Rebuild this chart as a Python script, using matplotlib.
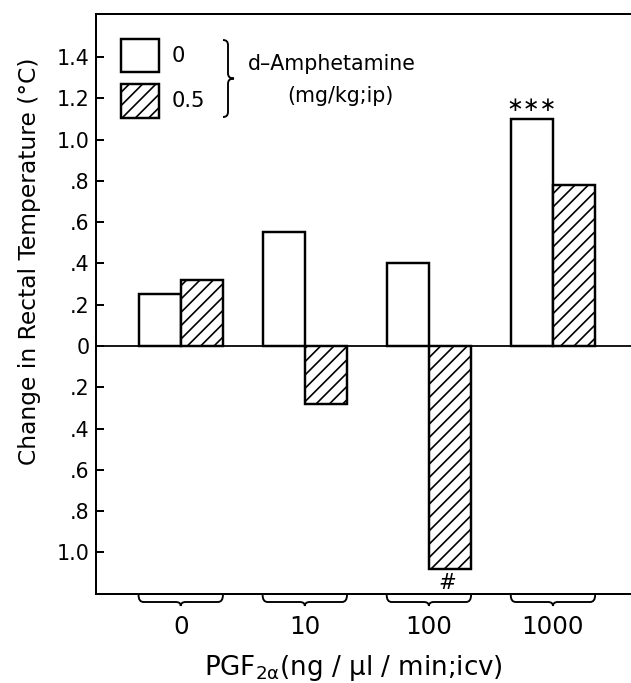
import matplotlib
matplotlib.use("Agg")
import matplotlib.pyplot as plt
from matplotlib.patches import Rectangle, PathPatch
from matplotlib.path import Path
from matplotlib.transforms import IdentityTransform
import numpy as np

# data
doses = ["0", "10", "100", "1000"]          # PGF2a, ng/ul/min icv
amph_0 = [0.25, 0.55, 0.40, 1.10]           # d-amphetamine 0 mg/kg
amph_05 = [0.32, -0.28, -1.08, 0.78]        # d-amphetamine 0.5 mg/kg
y_ticks = [-1.0, -0.8, -0.6, -0.4, -0.2, 0.0, 0.2, 0.4, 0.6, 0.8, 1.0, 1.2, 1.4]

W, H, DPI = 631, 683, 80
plt.rcParams['font.family'] = ['DejaVu Sans']
plt.rcParams['mathtext.default'] = 'regular'
plt.rcParams['hatch.linewidth'] = 1.5

fig = plt.figure(figsize=(W / DPI, H / DPI), dpi=DPI)
# axes frame in image pixels: left 96, top 14, bottom 594, running off the right edge
ax = fig.add_axes([96 / W, (H - 594) / H, 1.0 - 96 / W + 0.01, (594 - 14) / H])

x = np.arange(len(doses))
bw = 0.34
ax.bar(x - bw / 2, amph_0, bw, color="white", edgecolor="black", linewidth=2.2)
ax.bar(x + bw / 2, amph_05, bw, color="white", edgecolor="black", linewidth=2.2, hatch="//")
ax.axhline(0, color="black", lw=1.6)

ax.set_xlim(-0.683, 3.68)
ax.set_ylim(-1.201, 1.608)

# y ticks shown as magnitudes without leading zero
def fmt(v):
    v = abs(round(v, 1))
    if v == 0:
        return "0"
    s = f"{v:.1f}"
    return s[1:] if s.startswith("0") else s

ax.set_yticks(y_ticks)
ax.set_yticklabels([fmt(v) for v in y_ticks])
ax.tick_params(axis="y", direction="in", length=7, width=1.8, pad=6, labelsize=18.5)
ax.set_xticks(x)
ax.set_xticklabels(doses)
ax.tick_params(axis="x", length=0, pad=19, labelsize=22)

for s in ["left", "top", "bottom"]:
    ax.spines[s].set_linewidth(1.8)
ax.spines["right"].set_visible(False)

ax.set_ylabel("Change in Rectal Temperature (°C)", fontsize=21)
ax.yaxis.set_label_coords(-0.102, 0.574)
ax.set_xlabel(r"PGF$_{2\alpha}$(ng / $\mu$l / min;icv)", fontsize=23.5)
ax.xaxis.set_label_coords(0.475, -0.102)

# significance marks
ax.annotate("∗∗∗", (x[3] - bw / 2, amph_0[3]), xytext=(0, 13), textcoords="offset pixels",
            ha="center", va="center", fontsize=18)
ax.annotate("#", (x[2] + bw / 2, amph_05[2]), xytext=(-3, -14), textcoords="offset pixels",
            ha="center", va="center", fontsize=19, style="italic")


def img_path(verts, codes):
    # verts in image pixels (y down) -> display pixels
    v = [(px, H - py) for px, py in verts]
    return PathPatch(Path(v, codes), transform=IdentityTransform(), fill=False,
                     edgecolor="black", lw=1.7)


# group braces under the x axis
fig.canvas.draw()
to_px = ax.transData.transform
C, Q, L = Path.MOVETO, Path.CURVE3, Path.LINETO
for xi in x:
    x0 = to_px((xi - bw, 0))[0]
    x1 = to_px((xi + bw, 0))[0]
    xc = (x0 + x1) / 2
    yt, yb, tip = 595, 602, 606
    verts = [(x0, yt), (x0, yb), (x0 + 5, yb),
             (xc - 5, yb), (xc, yb), (xc, tip),
             (xc, yb), (xc + 5, yb),
             (x1 - 5, yb), (x1, yb), (x1, yt)]
    fig.add_artist(img_path(verts, [C, Q, Q, L, Q, Q, Q, Q, L, Q, Q]))

# legend
def ax_xy(px, py):
    return ((px - 96) / (W - 96 + 0.01 * W), (594 - py) / (594 - 14))

for (top, bot), hatch, label in [((39, 72), None, "0"), ((84, 118), "//", "0.5")]:
    x0, y0 = ax_xy(121, bot)
    x1, y1 = ax_xy(159, top)
    ax.add_patch(Rectangle((x0, y0), x1 - x0, y1 - y0, transform=ax.transAxes,
                           facecolor="white", edgecolor="black", lw=2.2, hatch=hatch,
                           clip_on=False))
    tx, ty = ax_xy(172, (top + bot) / 2)
    ax.text(tx, ty, label, transform=ax.transAxes, ha="left", va="center", fontsize=19)

bx, bt, bb = 223, 40, 117
bm = (bt + bb) / 2
verts = [(bx, bt), (bx + 5, bt), (bx + 5, bt + 5),
         (bx + 5, bm - 5), (bx + 5, bm), (bx + 11, bm),
         (bx + 5, bm), (bx + 5, bm + 5),
         (bx + 5, bb - 5), (bx + 5, bb), (bx, bb)]
fig.add_artist(img_path(verts, [C, Q, Q, L, Q, Q, Q, Q, L, Q, Q]))

tx, ty = ax_xy(248, 64)
ax.text(tx, ty, "d–Amphetamine", transform=ax.transAxes, ha="left", va="center", fontsize=18.5)
tx, ty = ax_xy(340, 96)
ax.text(tx, ty, "(mg/kg;ip)", transform=ax.transAxes, ha="center", va="center", fontsize=18.5)

fig.savefig("out.png", dpi=DPI)
